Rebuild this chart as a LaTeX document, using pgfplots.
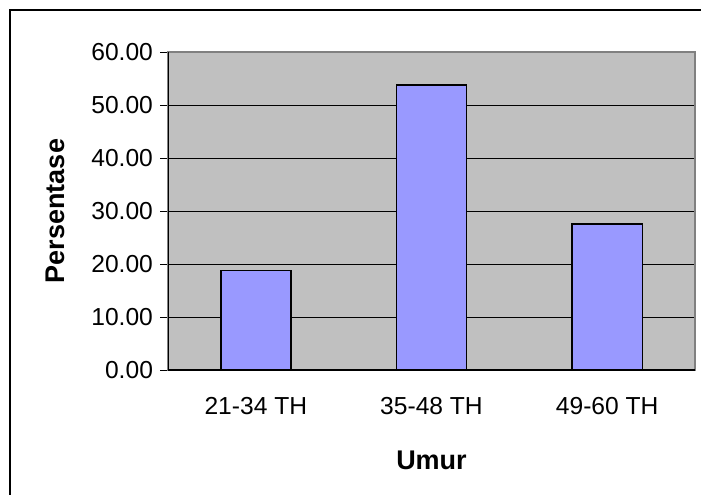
\documentclass[border=0pt]{standalone}
\usepackage{fontspec}
\setmainfont{Liberation Sans}
\usepackage{pgfplots}
\pgfplotsset{compat=1.18}
\definecolor{plotbg}{HTML}{C0C0C0}
\definecolor{barfill}{HTML}{9999FF}
\begin{document}
\begin{tikzpicture}[font=\fontsize{12.3}{14}\selectfont]
\useasboundingbox (0,0) rectangle (350.5pt,247pt);
\draw[line width=1pt] (5pt,-2pt) -- (5pt,242pt) -- (352pt,242pt);
\begin{axis}[
  at={(84pt,62pt)}, anchor=south west,
  scale only axis, width=263.5pt, height=159pt,
  xmin=-0.5, xmax=2.5, ymin=0, ymax=60,
  ytick={0,10,...,60},
  xtick={0,1,2}, xticklabels={21-34 TH,35-48 TH,49-60 TH},
  x tick style={draw=none},
  extra x ticks={-0.5,0.5,1.5,2.5},
  extra x tick labels={},
  extra x tick style={tick style={draw=black, line width=0.5pt}},
  tick align=outside, xtick pos=left, ytick pos=left,
  major tick length=4pt,
  y tick style={black, line width=0.5pt},
  yticklabel style={/pgf/number format/.cd, fixed, fixed zerofill, precision=2, assume math mode=true},
  xticklabel style={yshift=-6pt},
  axis background/.style={fill=plotbg},
  axis line style={draw=gray, line width=0.75pt},
  ymajorgrids, major grid style={black, line width=0.5pt},
  every axis y label/.style={at={(axis description cs:-0.2135,0.5)}, rotate=90, anchor=center, font=\fontsize{13.5}{15}\selectfont\bfseries},
  every axis x label/.style={at={(axis description cs:0.5,-0.283)}, anchor=center, font=\fontsize{13.5}{15}\selectfont\bfseries},
  ylabel={Persentase}, xlabel={Umur},
]
\addplot[ybar, bar width=0.4, fill=barfill, draw=black, line width=0.8pt] coordinates {(0,18.75) (1,53.75) (2,27.5)};
\draw[black, line width=0.75pt] (rel axis cs:0,1) -- (rel axis cs:0,0) -- (rel axis cs:1,0);
\end{axis}
\end{tikzpicture}
\end{document}
